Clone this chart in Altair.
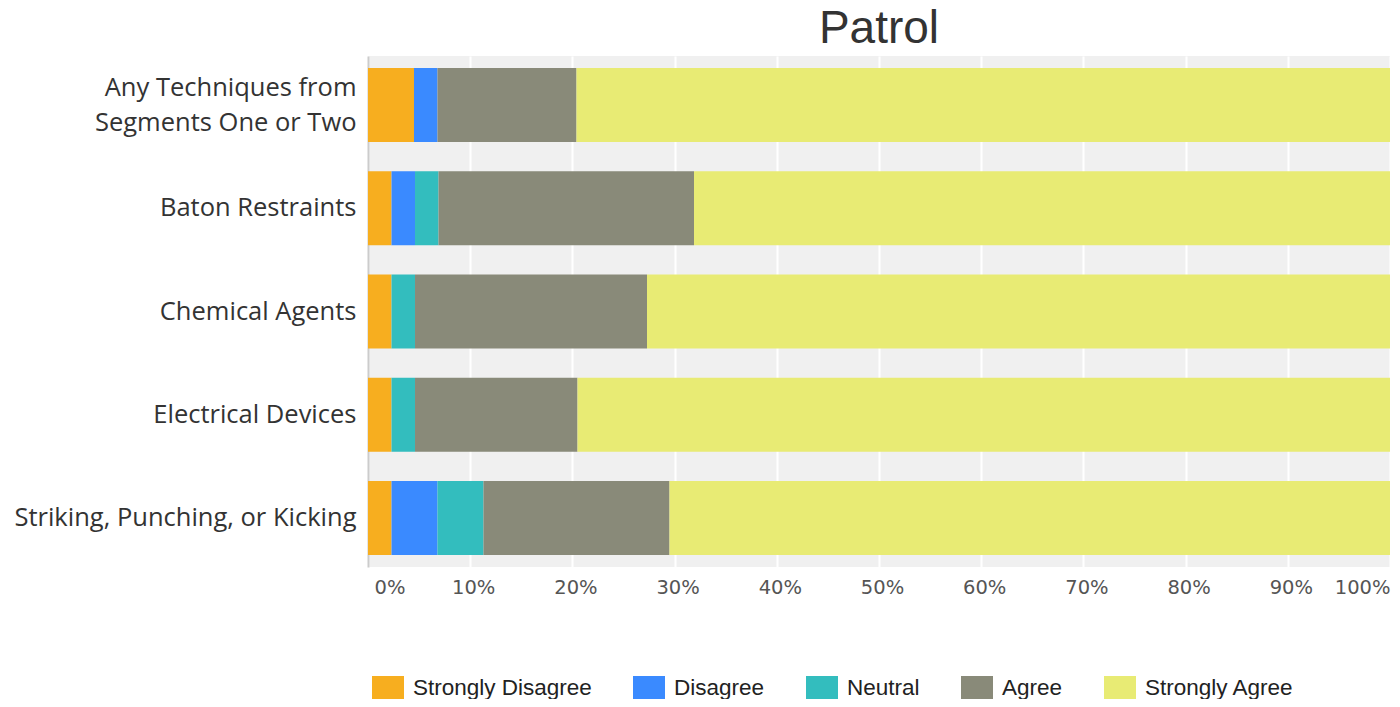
import altair as alt
import pandas as pd

categories = [
    "Any Techniques from Segments One or Two",
    "Baton Restraints",
    "Chemical Agents",
    "Electrical Devices",
    "Striking, Punching, or Kicking",
]
responses = ["Strongly Disagree", "Disagree", "Neutral", "Agree", "Strongly Agree"]
colors = ["#f7ae1f", "#3a8aff", "#33bdbe", "#898a79", "#e8eb74"]

strongly_disagree = [4.5, 2.3, 2.3, 2.3, 2.3]
disagree = [2.3, 2.3, 0.0, 0.0, 4.5]
neutral = [0.0, 2.3, 2.3, 2.3, 4.5]
agree = [13.6, 25.0, 22.7, 15.9, 18.2]
strongly_agree = [79.6, 68.1, 72.7, 79.5, 70.5]

series = [strongly_disagree, disagree, neutral, agree, strongly_agree]
rows = []
for ri, (resp, vals) in enumerate(zip(responses, series)):
    for cat, v in zip(categories, vals):
        rows.append({"Category": cat, "Response": resp, "Order": ri, "Percent": v})
df = pd.DataFrame(rows)

long_label = "Any Techniques from Segments One or Two"
label_expr = (
    f"datum.label == '{long_label}' ? "
    "['Any Techniques from', 'Segments One or Two'] : datum.label"
)

chart = (
    alt.Chart(df)
    .mark_bar()
    .encode(
        y=alt.Y(
            "Category:N",
            sort=categories,
            scale=alt.Scale(paddingInner=0.284, paddingOuter=0.116),
            axis=alt.Axis(
                title=None,
                labelExpr=label_expr,
                labelFont="Open Sans",
                labelFontSize=25.5,
                labelColor="#333333",
                labelPadding=12,
                labelLineHeight=35,
                labelLimit=400,
                labelOffset={
                    "condition": {"test": f"datum.value == '{long_label}'", "value": -17},
                    "value": 0,
                },
                ticks=False,
                domain=True,
                domainColor="#cccccc",
                domainWidth=2,
                grid=False,
            ),
        ),
        x=alt.X(
            "Percent:Q",
            stack="normalize",
            scale=alt.Scale(domain=[0, 1], nice=False),
            axis=alt.Axis(
                title=None,
                format=".0%",
                values=[0, 0.1, 0.2, 0.3, 0.4, 0.5, 0.6, 0.7, 0.8, 0.9, 1.0],
                labelFont="DejaVu Sans",
                labelFontSize=19.5,
                labelColor="#555555",
                labelPadding=11,
                labelFlush=True,
                labelOffset={
                    "condition": [
                        {"test": "datum.value == 0", "value": 6},
                        {"test": "datum.value == 1", "value": 0},
                    ],
                    "value": 3,
                },
                ticks=False,
                domain=False,
                grid=True,
                gridColor="#ffffff",
                gridWidth=2,
                gridOpacity=1,
            ),
        ),
        color=alt.Color(
            "Response:N",
            scale=alt.Scale(domain=responses, range=colors),
            legend=alt.Legend(
                title=None,
                orient="none",
                direction="horizontal",
                columns=5,
                legendX=4,
                legendY=616,
                symbolType="M-1,-0.75L1,-0.75L1,0.75L-1,0.75Z",
                symbolSize=1024,
                symbolStrokeWidth=0,
                symbolOpacity=1,
                labelFont="Liberation Sans",
                labelFontSize=22.5,
                labelColor="#222222",
                labelOffset=9,
                columnPadding=41,
                labelLimit=300,
            ),
        ),
        order=alt.Order("Order:Q", sort="ascending"),
    )
    .properties(
        width=1022,
        height=511,
        title=alt.TitleParams(
            "Patrol",
            font="Liberation Sans",
            fontSize=46,
            fontWeight="normal",
            color="#333333",
            anchor="middle",
            offset=3,
        ),
        autosize=alt.AutoSizeParams(type="none"),
        padding={"left": 360, "top": 48, "right": 2, "bottom": 132},
        background="#ffffff",
    )
    .configure_view(fill="#f0f0f0", stroke=None)
)

chart.save("out.html", embed_options={"renderer": "svg", "actions": False})
